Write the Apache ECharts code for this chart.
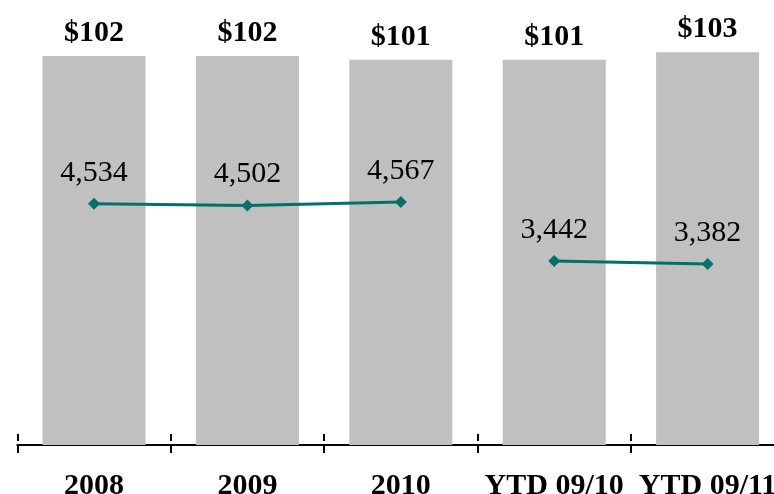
<!DOCTYPE html>
<html>
<head>
<meta charset="utf-8">
<script src="https://cdn.jsdelivr.net/npm/echarts@6/dist/echarts.min.js"></script>
<style>html,body{margin:0;padding:0;background:#fff;}#c{width:774px;height:494px;}</style>
</head>
<body>
<div id="c"></div>
<script>
var categories = ['2008', '2009', '2010', 'YTD 09/10', 'YTD 09/11'];
var barValues = [102, 102, 101, 101, 103];
var lineFull = [4534, 4502, 4567, '-', '-'];
var lineYtd = ['-', '-', '-', 3442, 3382];

var chart = echarts.init(document.getElementById('c'), null, {renderer: 'canvas'});
var serif = '"Liberation Serif", "Times New Roman", serif';
var lineStyleCommon = {
  type: 'line',
  yAxisIndex: 1,
  symbol: 'diamond',
  symbolSize: 12,
  lineStyle: {color: '#00706A', width: 3},
  itemStyle: {color: '#00706A'},
  label: {
    show: true, position: 'top', distance: 10,
    fontFamily: serif, fontSize: 30, color: '#000',
    formatter: function (p) { return p.value.toLocaleString('en-US'); }
  },
  z: 3,
  animation: false
};
chart.setOption({
  animation: false,
  grid: {left: 17.3, width: 767, top: 25.5, bottom: 49, containLabel: false, outerBoundsMode: 'none'},
  xAxis: [{
    type: 'category',
    data: categories,
    axisLine: {lineStyle: {color: '#000', width: 2}},
    axisTick: {show: true, length: 8, interval: 0, lineStyle: {color: '#000', width: 2}},
    axisLabel: {fontFamily: serif, fontSize: 30, fontWeight: 'bold', color: '#000', margin: 26, interval: 0, hideOverlap: false}
  }, {
    type: 'category',
    data: categories,
    position: 'bottom',
    axisLine: {show: false},
    axisTick: {show: true, inside: true, length: 7, interval: 0, lineStyle: {color: '#000', width: 2}},
    axisLabel: {show: false}
  }],
  yAxis: [{
    type: 'value', min: 0, max: 110, show: false, splitLine: {show: false}
  }, {
    type: 'value', min: -77, max: 7944, show: false, splitLine: {show: false}
  }],
  series: [{
    type: 'bar',
    data: barValues,
    barWidth: 103,
    itemStyle: {color: '#C0C0C0'},
    label: {
      show: true, position: 'top', distance: 8,
      fontFamily: serif, fontSize: 30, fontWeight: 'bold', color: '#000',
      formatter: function (p) { return '$' + p.value; }
    },
    z: 2
  },
  Object.assign({data: lineFull}, lineStyleCommon),
  Object.assign({data: lineYtd}, lineStyleCommon)
  ]
});
</script>
</body>
</html>
